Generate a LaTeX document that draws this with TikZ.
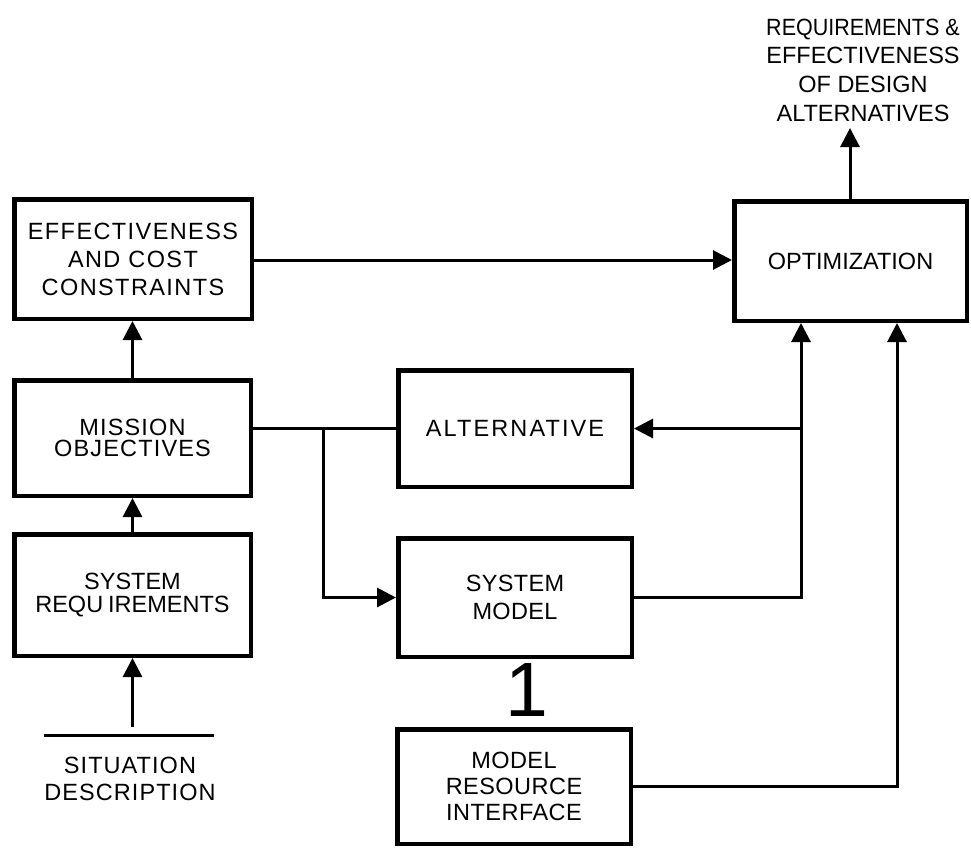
\documentclass[tikz,border=0pt]{standalone}
\usepackage{fontspec}
\usepackage{graphicx}
\setmainfont{Liberation Sans}
\usetikzlibrary{arrows.meta,calc}
\newcommand{\lsp}[1]{\addfontfeature{LetterSpace=#1}}
\begin{document}
\begin{tikzpicture}[x=1pt,y=-1pt,
  box/.style={draw,line width=4.5pt,align=center,inner sep=0pt},
  conn/.style={line width=3pt},
  arr/.style={line width=3pt,-{Triangle[length=19pt,width=19pt]}},
  lbl/.style={align=center,inner sep=0pt},
  font=\fontsize{23.5}{28}\selectfont]
\useasboundingbox (0,0) rectangle (971,847);
\fill[white] (0,0) rectangle (971,847);

\node[box,minimum width=237.5pt,minimum height=119.5pt,font=\fontsize{23.5}{28}\selectfont\lsp{6}] (eff) at (133,259) {EFFECTIVENESS\\AND COST\\CONSTRAINTS};
\node[box,minimum width=236.5pt,minimum height=115.5pt,font=\fontsize{23.5}{21.5}\selectfont\lsp{5}] (mis) at (132.5,438) {MISSION\\OBJECTIVES};
\node[box,minimum width=236.5pt,minimum height=121.5pt,font=\fontsize{23.5}{23.5}\selectfont] (sr) at (132.5,595) {SYSTEM\\REQU\kern5pt IREMENTS};
\node[box,minimum width=233.5pt,minimum height=116.5pt,font=\fontsize{23.5}{28}\selectfont\lsp{9}] (alt) at (515,428.5) {ALTERNATIVE};
\node[box,minimum width=233.5pt,minimum height=118.5pt,font=\fontsize{23.5}{28}\selectfont\lsp{1.5}] (sm) at (515,597.5) {SYSTEM\\MODEL};
\node[box,minimum width=233.5pt,minimum height=114.5pt,font=\fontsize{23.5}{26}\selectfont\lsp{2}] (mri) at (514,786.5) {MODEL\\RESOURCE\\INTERFACE};
\node[box,minimum width=232.5pt,minimum height=119.5pt] (opt) at (850.5,261) {OPTIMIZATION};

\node[lbl,font=\fontsize{23.5}{28.7}\selectfont] (out) at (863,70) {\scalebox{0.915}[1]{REQUIREMENTS \&}\\EFFECTIVENESS\\OF DESIGN\\ALTERNATIVES};
\node[lbl,font=\fontsize{23.5}{27}\selectfont\lsp{4.5}] (sit) at (130,779) {SITUATION\\DESCRIPTION};
\node[inner sep=0pt,font=\fontsize{77}{77}\selectfont] (one) at (527,690) {1};

\coordinate (sitl) at (44,735);
\coordinate (sitr) at (214,735);
\coordinate (sitin) at (132.5,727);
\coordinate (outtip) at (850,128);
\coordinate (br) at (323,428.5);
\coordinate (j) at (801,0);
\coordinate (k) at (897,0);

\draw[conn] (sitl) -- (sitr);
\draw[arr] (sitin) -- (sitin |- sr.south);
\draw[arr] (sr.north) -- (mis.south);
\draw[arr] (mis.north) -- (mis.north |- eff.south);
\draw[arr] (eff.east |- 0,260) -- (opt.west |- 0,260);
\draw[arr] (opt.north -| outtip) -- (outtip);
\draw[conn] (mis.east |- alt.west) -- (alt.west);
\draw[arr] (br) |- (sm.west);
\draw[arr] (sm.east) -| (j |- opt.south);
\draw[arr] (j |- alt.east) -- (alt.east);
\draw[arr] (mri.east) -| (k |- opt.south);
\end{tikzpicture}
\end{document}
